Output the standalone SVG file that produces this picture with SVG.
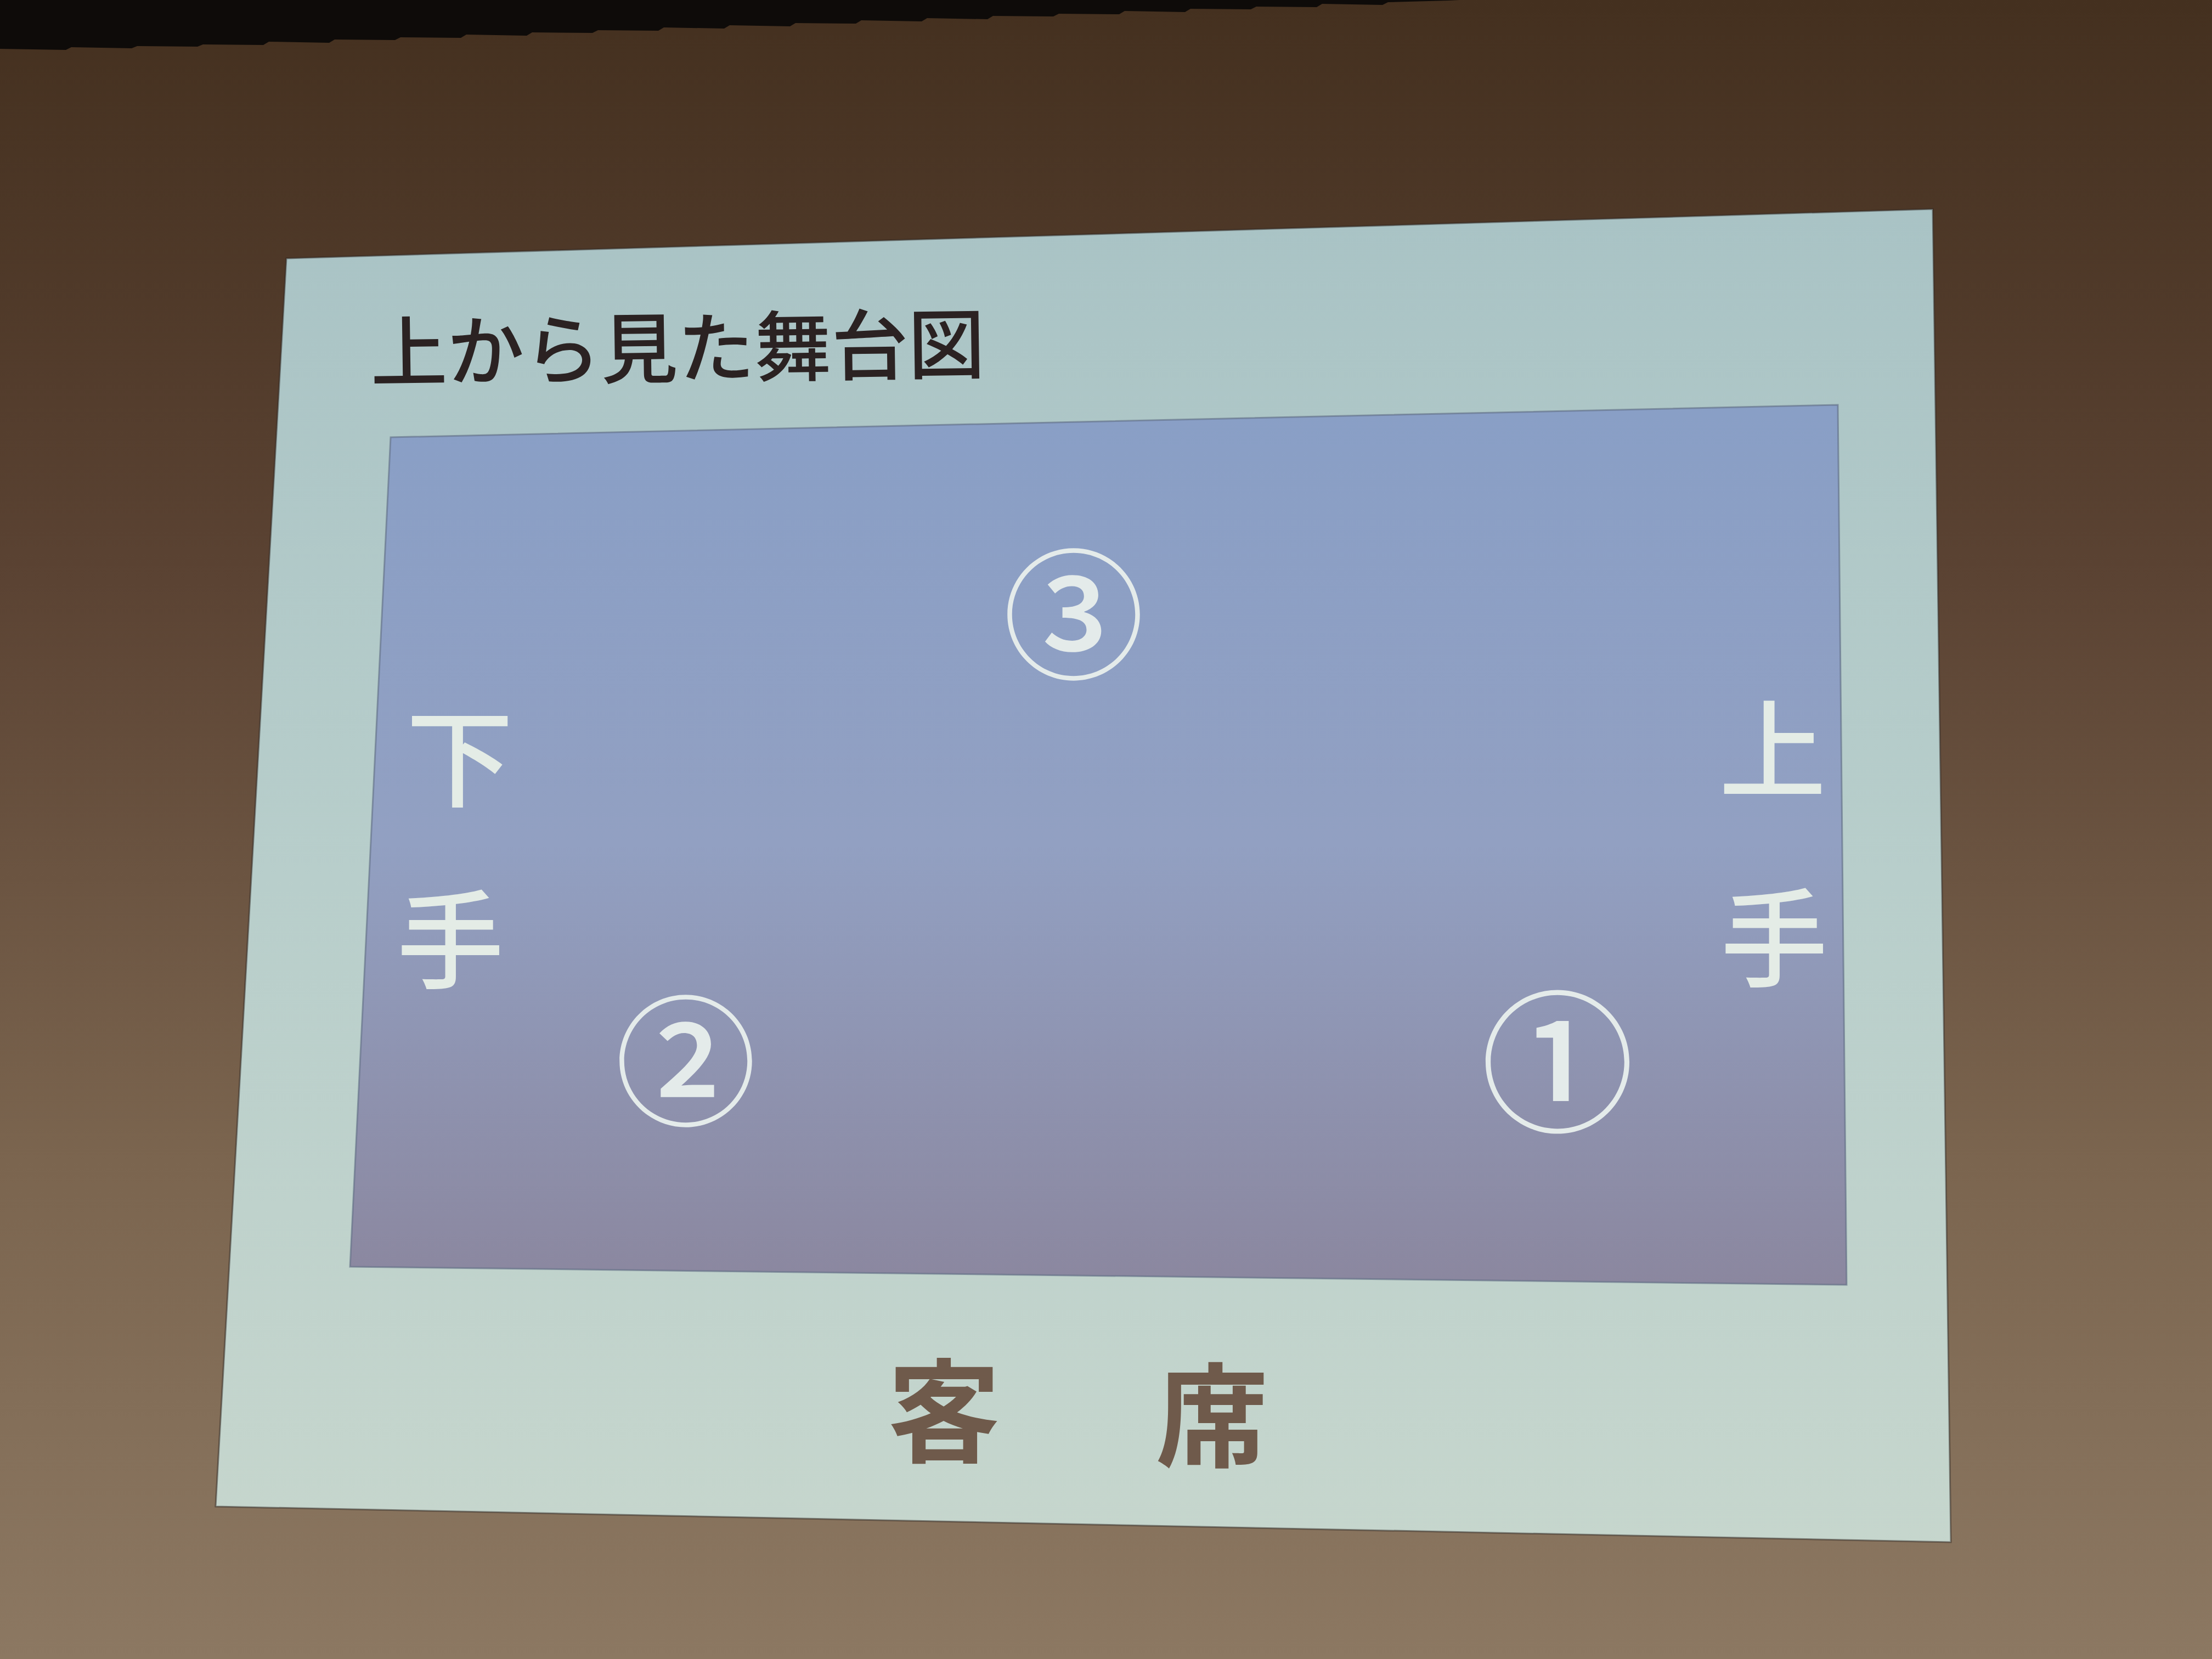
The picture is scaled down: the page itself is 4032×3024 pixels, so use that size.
<svg xmlns="http://www.w3.org/2000/svg" width="4032" height="3024" viewBox="0 0 4032 3024">
  <defs>
    <linearGradient id="room" x1="0" y1="0" x2="0" y2="1">
      <stop offset="0" stop-color="#44301f"/>
      <stop offset="0.35" stop-color="#5b4333"/>
      <stop offset="0.7" stop-color="#7b654f"/>
      <stop offset="1" stop-color="#8c7862"/>
    </linearGradient>
    <linearGradient id="slide" x1="0" y1="0" x2="0" y2="1">
      <stop offset="0" stop-color="#a9c3c5"/>
      <stop offset="0.5" stop-color="#b8cecb"/>
      <stop offset="1" stop-color="#c6d6cd"/>
    </linearGradient>
    <linearGradient id="stage" x1="0" y1="0" x2="0" y2="1">
      <stop offset="0" stop-color="#899fc6"/>
      <stop offset="0.5" stop-color="#92a0c2"/>
      <stop offset="1" stop-color="#8b879f"/>
    </linearGradient>
    <style>
      .title { font-family: "Noto Sans CJK JP", "Noto Sans", sans-serif; font-size: 140px; font-weight: 500; fill: #2b2222; }
      .side { font-family: "Noto Sans CJK JP", "Noto Sans", sans-serif; font-size: 195px; font-weight: 500; fill: #e4ece6; text-anchor: middle; }
      .num { font-family: "Noto Sans CJK JP", "Noto Sans", sans-serif; font-weight: 500; fill: #e4ebea; text-anchor: middle; }
      .seat { font-family: "Noto Sans CJK JP", "Noto Sans", sans-serif; font-size: 205px; font-weight: 700; fill: #6f5a4b; text-anchor: middle; }
    </style>
  </defs>

  <rect id="room-wall" x="0" y="0" width="4032" height="3024" fill="url(#room)"/>
  <polygon id="valance" fill="#0e0b09" points="0,0 2660,0 2640,1 2530,4 2520,9 2410,7 2400,13 2290,12 2280,17 2170,16 2160,22 2050,20 2040,26 1930,25 1920,30 1810,29 1800,35 1690,33 1680,39 1570,37 1560,43 1450,42 1440,48 1330,46 1320,52 1210,50 1200,56 1090,55 1080,60 970,59 960,65 850,63 840,69 730,68 720,73 610,72 600,78 490,76 480,82 370,81 360,85 250,84 240,88 130,86 120,91 0,89"/>

  <g id="slide">
    <polygon points="522,471 3523,381 3556,2811 393,2746" fill="url(#slide)" stroke="#2c2420" stroke-width="3" stroke-opacity="0.5"/>
  </g>

  <g id="stage">
    <polygon points="712,797 3350,738 3366,2342 638,2309" fill="url(#stage)" stroke="#5e6a82" stroke-width="3" stroke-opacity="0.6"/>
  </g>

  <g id="title">
    <text class="title" x="676" y="694" transform="rotate(-0.8 676 694)">上から見た舞台図</text>
  </g>

  <g id="shimote">
    <text class="side"><tspan x="838" y="1456">下</tspan><tspan x="821" y="1787">手</tspan></text>
  </g>
  <g id="kamite">
    <text class="side"><tspan x="3231" y="1440">上</tspan><tspan x="3234" y="1784">手</tspan></text>
  </g>

  <g id="pos3">
    <text class="num" x="1957" y="1218" font-size="258">③</text>
  </g>
  <g id="pos2">
    <text class="num" x="1250" y="2032" font-size="258">②</text>
  </g>
  <g id="pos1">
    <text class="num" x="2839" y="2042" font-size="280">①</text>
  </g>

  <g id="audience">
    <text class="seat"><tspan x="1721" y="2649">客</tspan><tspan x="2209" y="2657">席</tspan></text>
  </g>

  <g id="connectors"></g>
</svg>
